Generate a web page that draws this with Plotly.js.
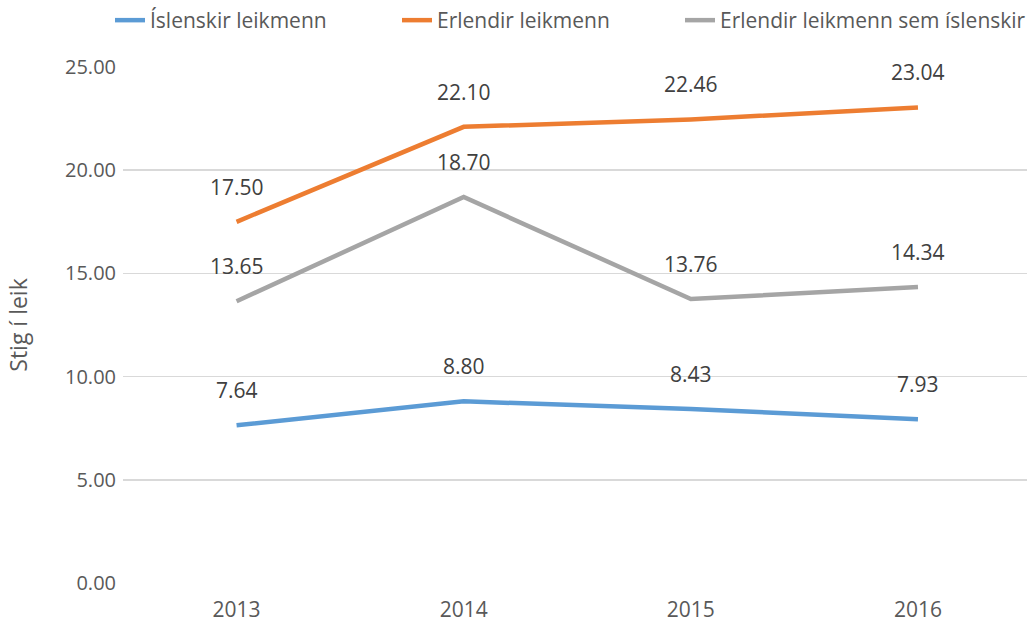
<!DOCTYPE html>
<html>
<head>
<meta charset="utf-8">
<script src="https://cdn.plot.ly/plotly-3.0.1.min.js"></script>
<style>
  html, body { margin: 0; padding: 0; background: #fff; }
  #chart { width: 1027px; height: 626px; }
</style>
</head>
<body>
<div id="chart"></div>
<script>
var years = ["2013", "2014", "2015", "2016"];
var islenskir = [7.64, 8.80, 8.43, 7.93];
var erlendir = [17.50, 22.10, 22.46, 23.04];
var erlendirSemIsl = [13.65, 18.70, 13.76, 14.34];

var seriesNames = ["Íslenskir leikmenn", "Erlendir leikmenn", "Erlendir leikmenn sem íslenskir"];
var seriesValues = [islenskir, erlendir, erlendirSemIsl];
var colors = ["#5B9BD5", "#ED7D31", "#A5A5A5"];

var font = "Open Sans, sans-serif";
var legendIds = ["legend", "legend2", "legend3"];
var legendX = [110, 397, 680]; // px from left of the page

var data = seriesValues.map(function (vals, i) {
  return {
    x: years,
    y: vals,
    name: seriesNames[i],
    legend: legendIds[i],
    type: "scatter",
    mode: "lines",
    line: {color: colors[i], width: 4.5},
    hoverinfo: "skip"
  };
});

// value labels sit above each point (x given as category index)
var annotations = [];
seriesValues.forEach(function (vals) {
  vals.forEach(function (v, j) {
    annotations.push({
      x: j, y: v, xref: "x", yref: "y",
      text: v.toFixed(2),
      showarrow: false,
      yshift: 35,
      font: {family: font, size: 21, color: "#404040"}
    });
  });
});

var layout = {
  width: 1027,
  height: 626,
  margin: {l: 123, r: 0, t: 67, b: 43},
  paper_bgcolor: "#fff",
  plot_bgcolor: "#fff",
  showlegend: true,
  xaxis: {
    type: "category",
    range: [-0.5, 3.48],
    showgrid: false,
    zeroline: false,
    showline: false,
    ticks: "",
    ticklabelstandoff: 12,
    tickfont: {family: font, size: 21, color: "#595959"},
    fixedrange: true
  },
  yaxis: {
    range: [0, 25],
    dtick: 5,
    tickformat: ".2f",
    showgrid: true,
    gridcolor: "#D9D9D9",
    gridwidth: 1.5,
    zeroline: false,
    showline: false,
    ticks: "",
    ticklen: 0,
    ticklabelstandoff: 6,
    tickfont: {family: font, size: 20, color: "#595959"},
    title: {text: "Stig í leik", font: {family: font, size: 23, color: "#595959"}, standoff: 30},
    fixedrange: true
  },
  annotations: annotations
};

// one legend per series so each entry can be placed where the original has it
legendIds.forEach(function (id, i) {
  layout[id] = {
    orientation: "h",
    xref: "container", yref: "container",
    x: legendX[i] / 1027, xanchor: "left",
    y: 1, yanchor: "top",
    font: {family: font, size: 21, color: "#595959"}
  };
});

Plotly.newPlot("chart", data, layout, {displayModeBar: false, staticPlot: true});
</script>
</body>
</html>
